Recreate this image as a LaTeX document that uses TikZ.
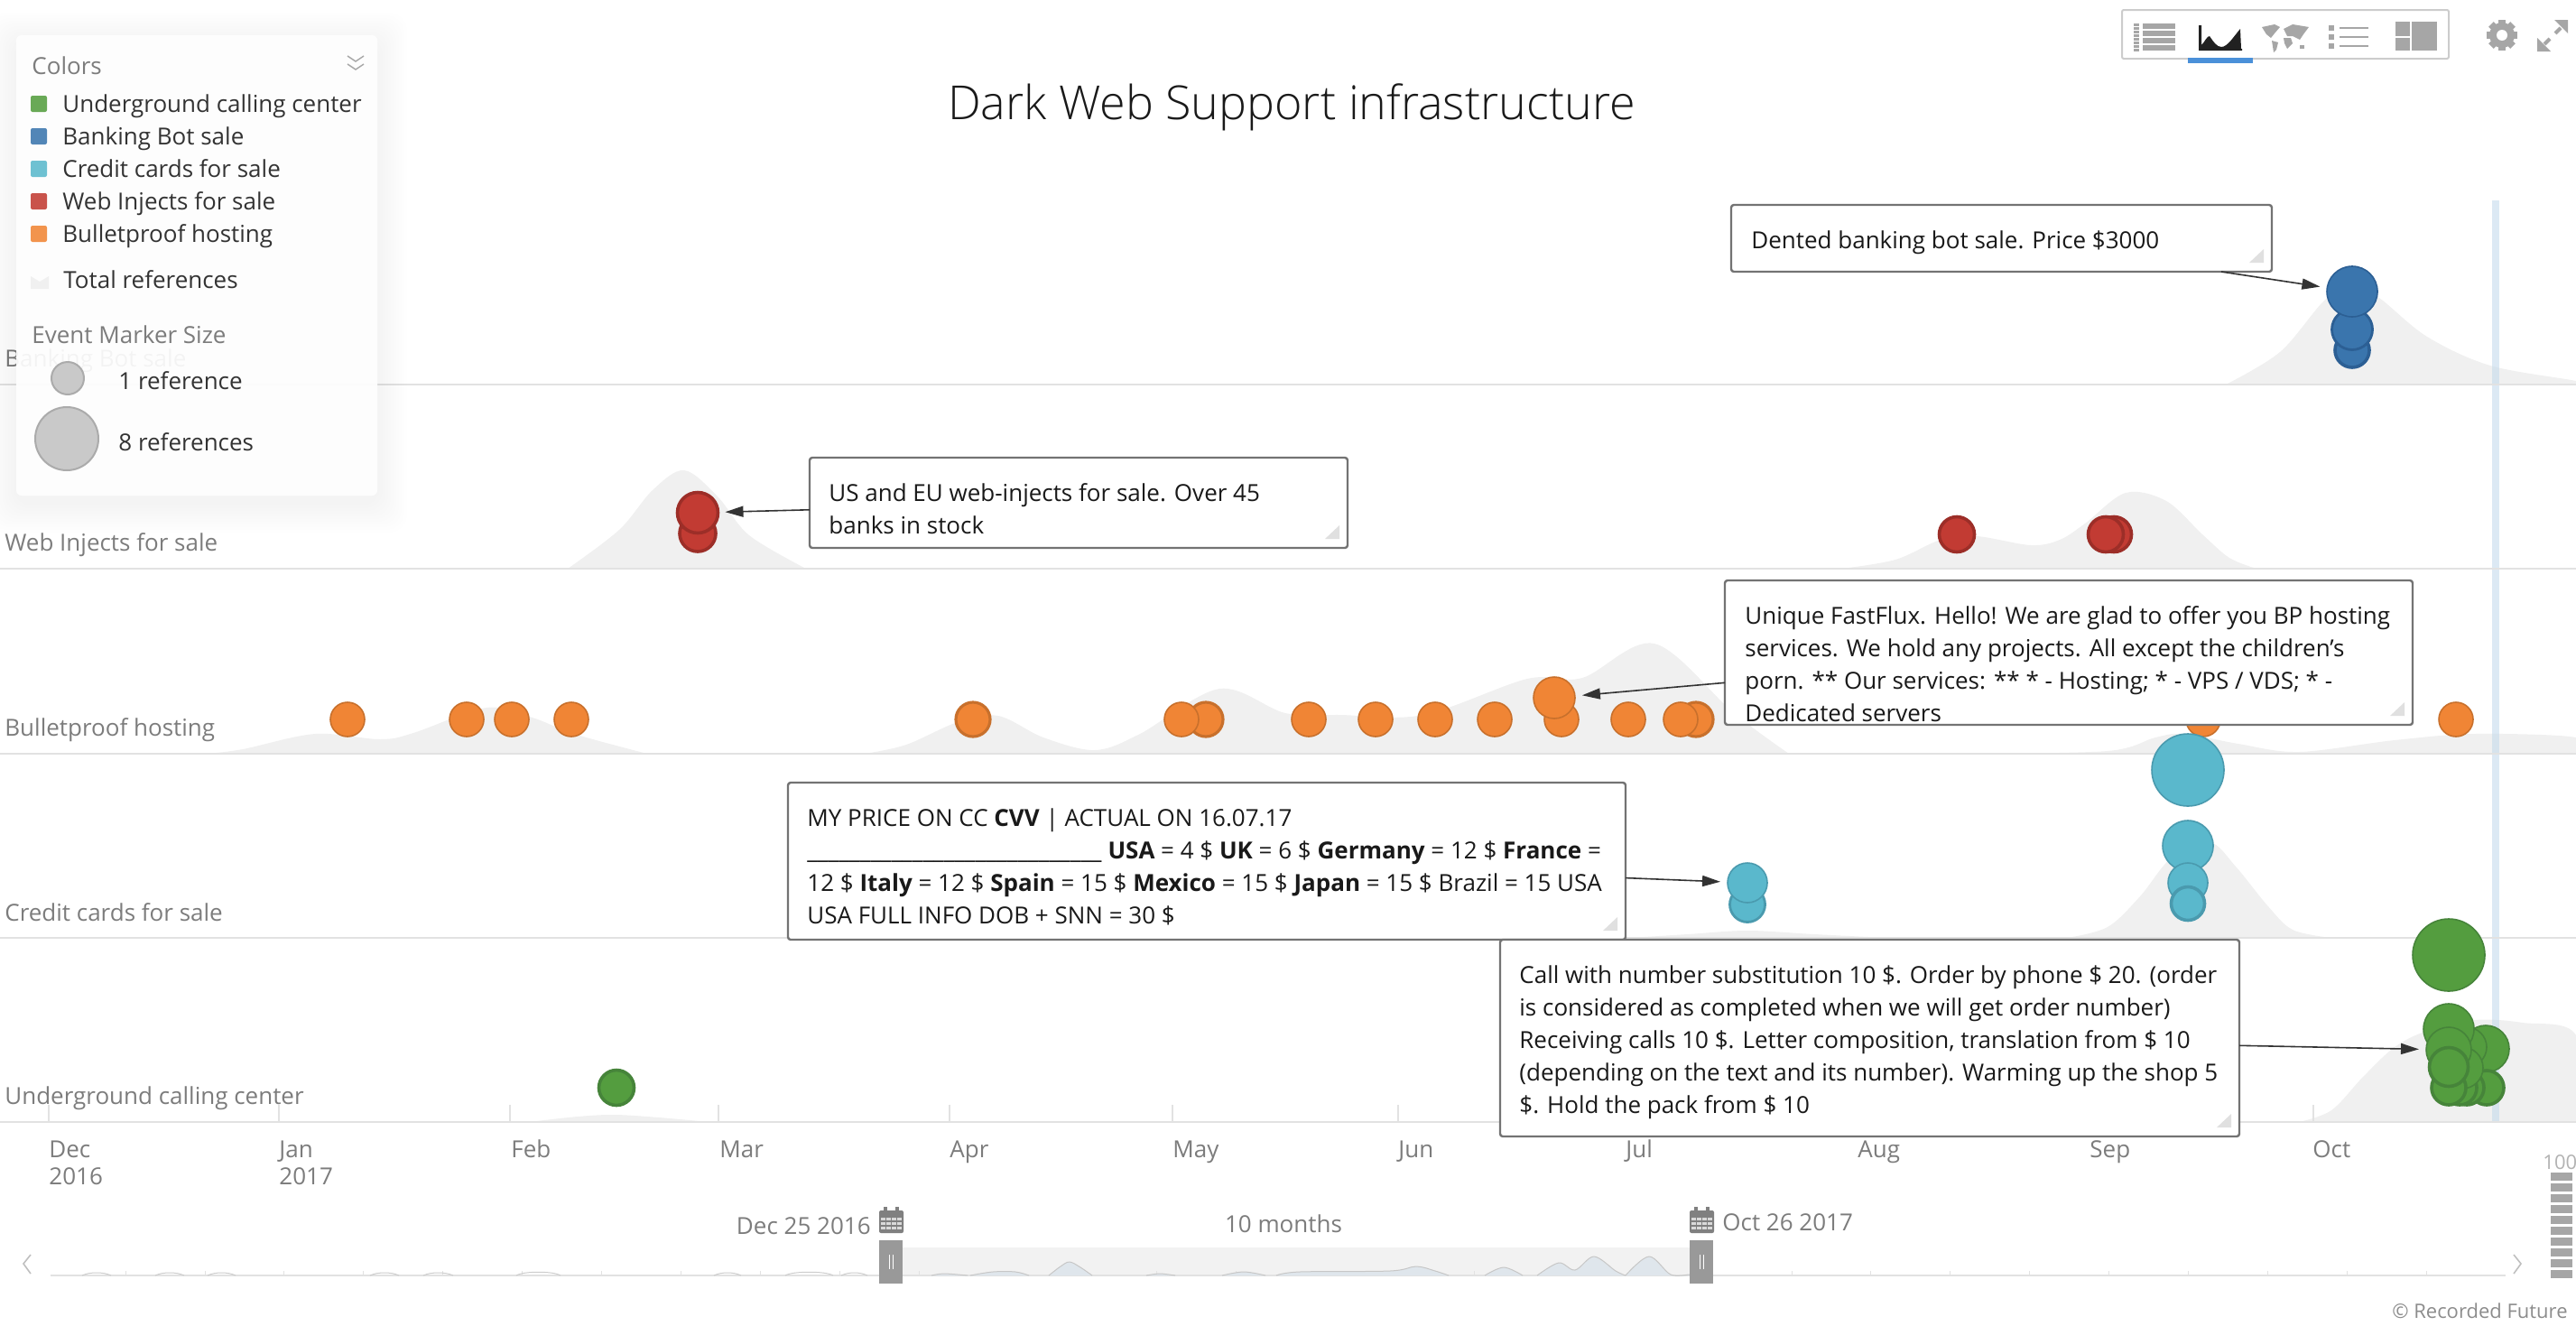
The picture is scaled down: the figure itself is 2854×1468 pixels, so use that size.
\documentclass[tikz,border=0pt]{standalone}
\usepackage{fontspec}
\setmainfont{Open Sans}
\newfontfamily\lightfont{Open Sans Light}
\usetikzlibrary{arrows.meta,calc}

\definecolor{evgreen}{HTML}{549D3F}
\definecolor{evgreendk}{HTML}{46843A}
\definecolor{evblue}{HTML}{3A75AD}
\definecolor{evbluedk}{HTML}{2C5F94}
\definecolor{evcyan}{HTML}{5AB8CC}
\definecolor{evcyandk}{HTML}{4A9AAE}
\definecolor{evred}{HTML}{C23B33}
\definecolor{evreddk}{HTML}{9C2E28}
\definecolor{evorange}{HTML}{F08535}
\definecolor{evorangedk}{HTML}{C8702C}
\definecolor{areagray}{HTML}{F0F0F0}
\definecolor{linegray}{HTML}{E2E2E2}
\definecolor{labelgray}{HTML}{7C7C7C}
\definecolor{icongray}{HTML}{A6A6A6}
\definecolor{darktext}{HTML}{333333}
\definecolor{tabblue}{HTML}{4A90D9}
\definecolor{nowblue}{HTML}{C5DBEC}
\definecolor{minifillc}{HTML}{DFE6EC}

\tikzset{
  basefont/.style={font=\fontsize{13}{18}\selectfont},
  rowlabel/.style={basefont, text=labelgray, inner sep=0, anchor=base west},
  timelabel/.style={basefont, text=labelgray, inner sep=0},
  legendtext/.style={basefont, text=darktext, inner sep=0, anchor=base west},
  calloutbox/.style={draw=black!55, fill=white, line width=1.2pt, rounded corners=1.5pt, outer sep=0, inner sep=0, anchor=north west},
  calltext/.style={basefont, text=black!90, inner sep=0, anchor=north west, align=left},
  callarrow/.style={-{Triangle[length=10pt,width=6pt]}, draw=darktext, line width=.8pt, shorten >=4pt},
  evtmark/.style={circle, inner sep=0, outer sep=0, line width=.8pt},
  thickmark/.style={line width=1.8pt},
  greenmark/.style={evtmark, fill=evgreen, draw=evgreendk},
  bluemark/.style={evtmark, fill=evblue, draw=evbluedk},
  cyanmark/.style={evtmark, fill=evcyan, draw=evcyandk},
  redmark/.style={evtmark, fill=evred, draw=evreddk, thickmark, minimum size=19.5pt},
  orangemark/.style={evtmark, fill=evorange, draw=evorangedk, minimum size=19pt},
  greymark/.style={evtmark, fill=black!21, draw=black!33, line width=1pt},
  areafill/.style={fill=areagray},
  miniline/.style={draw=black!20, line width=.5pt},
  minifill/.style={fill=minifillc, draw=black!22, line width=.5pt},
}

\begin{document}
\begin{tikzpicture}[x=.5pt,y=-.5pt]
  \useasboundingbox (0,0) rectangle (2854,1468);

  % Areas behind the rows
  \fill[areafill] plot[smooth,tension=.55] coordinates {(2466,426) (2526,390) (2575,333) (2606,315) (2636,330) (2689,373) (2759,405) (2854,422) (2854,426)};
  \fill[areafill] plot[smooth,tension=.55] coordinates {(629,630) (686,587) (723,543) (758,521) (795,550) (830,593) (893,630)};
  \fill[areafill] plot[smooth,tension=.55] coordinates {(2040,630) (2100,620) (2150,598) (2190,594) (2250,604) (2282,598) (2310,580) (2355,546) (2400,555) (2440,592) (2470,618) (2500,630)};
  \fill[areafill] plot[smooth,tension=.55] coordinates {(229,835) (269,830) (349,813) (421,819) (458,812) (539,784) (590,795) (636,813) (717,835)};
  \fill[areafill] plot[smooth,tension=.55] coordinates {(958,835) (1004,825) (1061,800) (1106,793) (1156,817) (1213,831) (1263,813) (1351,763) (1424,790) (1485,792) (1577,792) (1692,752) (1753,751) (1833,713) (1921,790) (1982,835)};
  \fill[areafill] plot[smooth,tension=.55] coordinates {(2180,835) (2335,832) (2388,817) (2420,813) (2480,824) (2547,833) (2653,820) (2742,813) (2854,817) (2854,835)};
  \fill[areafill] plot[smooth,tension=.55] coordinates {(1806,1039) (1870,1035) (1936,1031) (2010,1035) (2090,1039)};
  \fill[areafill] plot[smooth,tension=.55] coordinates {(2290,1039) (2335,1027) (2371,993) (2406,950) (2448,933) (2477,960) (2512,1003) (2540,1030) (2583,1039)};
  \fill[areafill] plot[smooth,tension=.55] coordinates {(586,1243) (640,1237) (681,1235) (730,1238) (786,1243)};
  \fill[areafill] plot[smooth,tension=.55] coordinates {(2547,1243) (2583,1230) (2618,1193) (2653,1160) (2689,1142) (2742,1130) (2795,1133) (2854,1147) (2854,1243)};

  % Current time bar
  \fill[nowblue, fill opacity=.6] (2761,222) rectangle (2769,1243);

  % Row lines and month ticks
  \foreach \y in {426,630,835,1039,1243}
    \draw[linegray, line width=1.2pt] (0,\y) -- (2854,\y);
  \foreach \x in {54,309,565,796,1052,1299,1549,1801,2058,2315,2563}
    \draw[linegray, line width=.7pt] (\x,1224) -- (\x,1243);

  % Row labels
  \node[rowlabel] (rowbank) at (5,406) {Banking Bot sale};
  \node[rowlabel] (rowweb) at (5,610) {Web Injects for sale};
  \node[rowlabel] (rowbp) at (5,815) {Bulletproof hosting};
  \node[rowlabel] (rowcc) at (5,1020) {Credit cards for sale};
  \node[rowlabel] (rowug) at (5,1223) {Underground calling center};

  % Banking bot markers
  \node[bluemark, thickmark, minimum size=19pt] (bk1) at (2606,388) {};
  \node[bluemark, line width=1.4pt, minimum size=22.5pt] (bk2) at (2606,365) {};
  \node[bluemark, minimum size=28pt] (bk3) at (2606,323) {};

  % Web inject markers
  \node[redmark, minimum size=20pt] (wi1) at (773,591) {};
  \node[redmark, minimum size=22.5pt] (wi2) at (773,568) {};
  \node[redmark] (wi3) at (2168,592) {};
  \node[redmark] (wi4) at (2342,592) {};
  \node[redmark] (wi5) at (2333,592) {};

  % Bulletproof markers
  \foreach \x in {385,517,567,633,1450,1524,1590,1656,1730,1804,2441,2721}
    \node[orangemark] (bp\x) at (\x,797) {};
  \node[orangemark, line width=1.6pt] (bp1078) at (1078,797) {};
  \node[orangemark, line width=1.6pt] (bp1336) at (1336,797) {};
  \node[orangemark] (bp1309) at (1309,797) {};
  \node[orangemark, line width=1.6pt] (bp1879) at (1879,797) {};
  \node[orangemark] (bp1862) at (1862,797) {};
  \node[orangemark, minimum size=23pt] (bpbig) at (1722,773) {};

  % Credit card markers
  \node[cyanmark, line width=1.4pt, minimum size=19.5pt] (cc1) at (1936,1002) {};
  \node[cyanmark, minimum size=22pt] (cc2) at (1936,978) {};
  \node[cyanmark, minimum size=40pt] (cc3) at (2424,853) {};
  \node[cyanmark, minimum size=28pt] (cc4) at (2424,937) {};
  \node[cyanmark, minimum size=22pt] (cc5) at (2424,978) {};
  \node[cyanmark, thickmark, minimum size=18.5pt] (cc6) at (2424,1001) {};

  % Calling center markers
  \node[greenmark, thickmark, minimum size=19.5pt] (ug0) at (683,1205) {};
  \node[greenmark, minimum size=40pt] (ug1) at (2713,1058) {};
  \node[greenmark, minimum size=26pt] (ug2) at (2754,1162) {};
  \node[greenmark, thickmark, minimum size=19pt] (ug3) at (2755,1205) {};
  \node[greenmark, minimum size=22pt] (ug4) at (2733,1160) {};
  \node[greenmark, thickmark, minimum size=19pt] (ug5) at (2733,1205) {};
  \node[greenmark, thickmark, minimum size=19pt] (ug6) at (2725,1205) {};
  \node[greenmark, minimum size=23pt] (ug7) at (2728,1183) {};
  \node[greenmark, thickmark, minimum size=19pt] (ug8) at (2713,1205) {};
  \node[greenmark, minimum size=28pt] (ug9) at (2713,1140) {};
  \node[greenmark, minimum size=25pt] (ug10) at (2713,1163) {};
  \node[greenmark, thickmark, minimum size=21.5pt] (ug11) at (2713,1182) {};

  % Callouts
  \node[calloutbox, minimum width=299.5pt, minimum height=37pt] (bkbox) at (1918,227) {};
  \node[calltext] (bktext) at (1940,250) {\strut Dented banking bot sale. Price \$3000};
  \node[calloutbox, minimum width=298pt, minimum height=50pt] (wibox) at (897,507) {};
  \node[calltext] (witext) at (918,530) {\strut US and EU web-injects for sale. Over 45\\banks in stock};
  \node[calloutbox, minimum width=381pt, minimum height=80pt] (bpbox) at (1911,643) {};
  \node[calltext] (bptext) at (1933,666) {\strut Unique FastFlux. Hello! We are glad to offer you BP hosting\\services. We hold any projects. All except the children's\\porn. ** Our services: ** * - Hosting; * - VPS / VDS; * -\\Dedicated servers};
  \node[calloutbox, minimum width=464pt, minimum height=87pt] (ccbox) at (873,867) {};
  \node[calltext] (cctext) at (894,890) {\strut MY PRICE ON CC \textbf{CVV} | ACTUAL ON 16.07.17\\\_\_\_\_\_\_\_\_\_\_\_\_\_\_\_\_\_\_\_\_\_\_\_\_\_\_\_\_ \textbf{USA} = 4 \$ \textbf{UK} = 6 \$ \textbf{Germany} = 12 \$ \textbf{France} =\\12 \$ \textbf{Italy} = 12 \$ \textbf{Spain} = 15 \$ \textbf{Mexico} = 15 \$ \textbf{Japan} = 15 \$ Brazil = 15 USA\\USA FULL INFO DOB + SNN = 30 \$};
  \node[calloutbox, minimum width=409.5pt, minimum height=109pt] (ugbox) at (1662,1041) {};
  \node[calltext] (ugtext) at (1683,1064) {\strut Call with number substitution 10 \$. Order by phone \$ 20. (order\\is considered as completed when we will get order number)\\Receiving calls 10 \$. Letter composition, translation from \$ 10\\(depending on the text and its number). Warming up the shop 5\\\$. Hold the pack from \$ 10};

  \foreach \b in {bkbox,wibox,bpbox,ccbox,ugbox}
    \fill[black!12] ($(\b.south east)+(-9,-25)$) -- ($(\b.south east)+(-9,-10)$) -- ($(\b.south east)+(-25,-10)$) -- cycle;

  \draw[callarrow] (bkbox) -- (bk3);
  \draw[callarrow] (wibox) -- (wi2);
  \draw[callarrow] (bpbox) -- (bpbig);
  \draw[callarrow] (ccbox) -- (cc2);
  \draw[callarrow] (ugbox) -- (ug10);

  % Title
  \node[font=\lightfont\fontsize{26}{32}\selectfont, text=black!90] (title) at (1431,119) {Dark Web Support infrastructure};

  % Legend
  \foreach \g in {3,6,...,33}
    \fill[black, fill opacity=.005, rounded corners=10pt] ({18-\g},{47-\g}) rectangle ({418+\g},{557+\g});
  \node[calloutbox, draw=none, fill opacity=.92, rounded corners=3pt, minimum width=200pt, minimum height=255pt] (legendbox) at (18,39) {};
  \node[legendtext, text=labelgray] (lgcolors) at (35,82) {Colors};
  \foreach \dy in {0,9}
    \draw[icongray, line width=.7pt] (385,62+\dy) -- (394,68+\dy) -- (403,62+\dy);
  \foreach \y/\c/\t in {115/evgreen!88!white/Underground calling center,151/evblue!88!white/Banking Bot sale,187/evcyan!88!white/Credit cards for sale,223/evred!88!white/Web Injects for sale,259/evorange!88!white/Bulletproof hosting} {
    \fill[\c, rounded corners=1pt] (34,\y-9) rectangle (52,\y+9);
    \node[legendtext] (lg\y) at (69,\y+9) {\t};
  }
  \fill[areafill] (34,306) -- (44,312) -- (54,306) -- (54,320) -- (34,320) -- cycle;
  \node[legendtext] (lgtotal) at (70,319) {Total references};
  \node[legendtext, text=labelgray] (lgevent) at (35,380) {Event Marker Size};
  \node[greymark, minimum size=18pt] (lgone) at (75,419) {};
  \node[legendtext] (lgonetext) at (131,431) {1 reference};
  \node[greymark, minimum size=35pt] (lgeight) at (74,486) {};
  \node[legendtext] (lgeighttext) at (131,499) {8 references};

  % Month labels
  \foreach \x/\m in {54/Dec,309/Jan,566/Feb,797/Mar,1052/Apr,1299/May,1549/Jun,1801/Jul,2058/Aug,2315/Sep,2562/Oct}
    \node[timelabel, anchor=base west] (mon\m) at (\x,1282) {\m};
  \node[timelabel, anchor=base west] (yr2016) at (54,1312) {2016};
  \node[timelabel, anchor=base west] (yr2017) at (309,1312) {2017};

  % Range selector
  \fill[black!5] (1000,1382) rectangle (1872,1413);
  \draw[linegray, line width=.7pt] (56,1413) -- (2776,1413);
  \foreach \k in {0,...,29}
    \draw[linegray, line width=.4pt] ({139+87.9*\k},1408) -- ({139+87.9*\k},1413);
  \foreach \a/\b/\h in {91/123/4,172/204/4,230/261/4,410/442/4,469/502/4,572/621/5,791/821/4,870/923/5,932/961/4}
    \draw[miniline] (\a,1413) .. controls (\a+8,1413-\h) and (\b-8,1413-\h) .. (\b,1413);
  \filldraw[minifill] plot[smooth,tension=.55] coordinates {(1032,1413) (1046,1411) (1072,1413)};
  \filldraw[minifill] plot[smooth,tension=.55] coordinates {(1075,1413) (1100,1409) (1125,1409) (1140,1413)};
  \filldraw[minifill] plot[smooth,tension=.55] coordinates {(1162,1413) (1175,1403) (1185,1398) (1197,1404) (1210,1413)};
  \filldraw[minifill] plot[smooth,tension=.55] coordinates {(1270,1413) (1285,1411) (1302,1413)};
  \filldraw[minifill] plot[smooth,tension=.55] coordinates {(1354,1413) (1378,1409) (1402,1413)};
  \filldraw[minifill] plot[smooth,tension=.55] coordinates {(1414,1413) (1440,1409) (1540,1408) (1569,1403) (1590,1408) (1605,1413)};
  \filldraw[minifill] plot[smooth,tension=.55] coordinates {(1645,1413) (1666,1404) (1687,1413)};
  \filldraw[minifill] plot[smooth,tension=.55] coordinates {(1703,1413) (1727,1399) (1745,1407) (1766,1392) (1790,1408) (1801,1413)};
  \filldraw[minifill] plot[smooth,tension=.55] coordinates {(1801,1413) (1827,1392) (1851,1412) (1872,1412) (1872,1413)};
  \foreach \x in {974,1872} {
    \fill[black!40] (\x,1374) rectangle (\x+26,1422);
    \draw[white, line width=.5pt] (\x+11,1390) -- (\x+11,1406);
    \draw[white, line width=.5pt] (\x+15,1390) -- (\x+15,1406);
    % calendar
    \fill[black!50, rounded corners=1pt] (\x,1341) rectangle (\x+27,1366);
    \fill[black!50] (\x+5,1337) rectangle (\x+9,1345);
    \fill[black!50] (\x+18,1337) rectangle (\x+22,1345);
    \foreach \gy in {1349,1354,1359}
      \fill[black!15] (\x+2,\gy) rectangle (\x+25,\gy+3);
    \foreach \gx in {7,13,19}
      \fill[black!50] (\x+\gx,1349) rectangle (\x+\gx+1,1364);
  }
  \node[timelabel, anchor=base east] (rangefrom) at (965,1367) {Dec 25 2016};
  \node[timelabel, anchor=base] (rangelen) at (1422,1365) {10 months};
  \node[timelabel, anchor=base west] (rangeto) at (1908,1363) {Oct 26 2017};
  \draw[black!25, line width=.8pt] (34,1390) -- (26,1400) -- (34,1411);
  \draw[black!25, line width=.8pt] (2785,1390) -- (2793,1400) -- (2785,1411);

  % Level bar and credit
  \foreach \k in {0,...,9}
    \fill[icongray] (2826,{1298.5+12*\k}) rectangle (2850,{1307.5+12*\k});
  \node[font=\fontsize{11}{12}\selectfont, text=black!30, inner sep=0, anchor=base west] (levelpct) at (2817,1295) {100\%};
  \node[font=\fontsize{11}{12}\selectfont, text=black!45, inner sep=0, anchor=base east] (credit) at (2845,1460) {© Recorded Future};

  % Toolbar
  \draw[black!20, line width=1pt, rounded corners=1pt] (2351,11) rectangle (2713,65);
  \foreach \y in {26,34,42,50}
    \fill[icongray] (2374,\y) rectangle (2410,\y+6);
  \foreach \y in {26,30,...,54}
    \fill[icongray] (2364,\y) rectangle (2370,\y+2.5);
  \fill[black!87] (2436,28) -- (2439,28) -- (2439,50) .. controls (2443,46) and (2445,40) .. (2448,40) .. controls (2452,46) and (2456,52) .. (2461,52) .. controls (2468,52) and (2475,40) .. (2482,32) -- (2483,54) -- (2484,54) -- (2484,56) -- (2436,56) -- cycle;
  \fill[tabblue] (2424,64) rectangle (2496,70);
  \fill[icongray] (2506,30) -- (2520,27) -- (2526,30) -- (2520,37) -- (2516,42) -- (2511,38) -- cycle;
  \fill[icongray] (2517,45) -- (2524,47) -- (2522,55) -- (2519,58) -- cycle;
  \fill[icongray] (2530,32) -- (2540,27) -- (2558,30) -- (2552,38) -- (2548,44) -- (2540,40) -- (2534,40) -- cycle;
  \fill[icongray] (2530,42) -- (2538,42) -- (2540,48) -- (2534,54) -- (2531,48) -- cycle;
  \fill[icongray] (2548,50) -- (2553,50) -- (2553,54) -- (2548,54) -- cycle;
  \foreach \y in {28,38,48} {
    \fill[icongray] (2580,\y) rectangle (2586,\y+6);
    \fill[icongray] (2592,\y+2) rectangle (2624,\y+4);
  }
  \fill[icongray] (2654,24) rectangle (2670,40);
  \fill[icongray] (2654,42) rectangle (2670,56);
  \fill[icongray] (2672,24) rectangle (2700,56);

  % Gear and expand
  \fill[icongray] (2772,39) circle (7pt);
  \foreach \a in {0,45,...,315}
    \fill[icongray, rotate around={\a:(2772,39)}] (2768,22) rectangle (2776,30);
  \fill[white] (2772,39) circle (3pt);
  \fill[icongray] (2811,57) -- (2811,42) -- (2826,57) -- cycle;
  \fill[icongray] (2845,22) -- (2830,22) -- (2845,37) -- cycle;
  \draw[icongray, line width=2pt] (2819,49) -- (2825,43);
  \draw[icongray, line width=2pt] (2831,37) -- (2837,31);
\end{tikzpicture}
\end{document}
